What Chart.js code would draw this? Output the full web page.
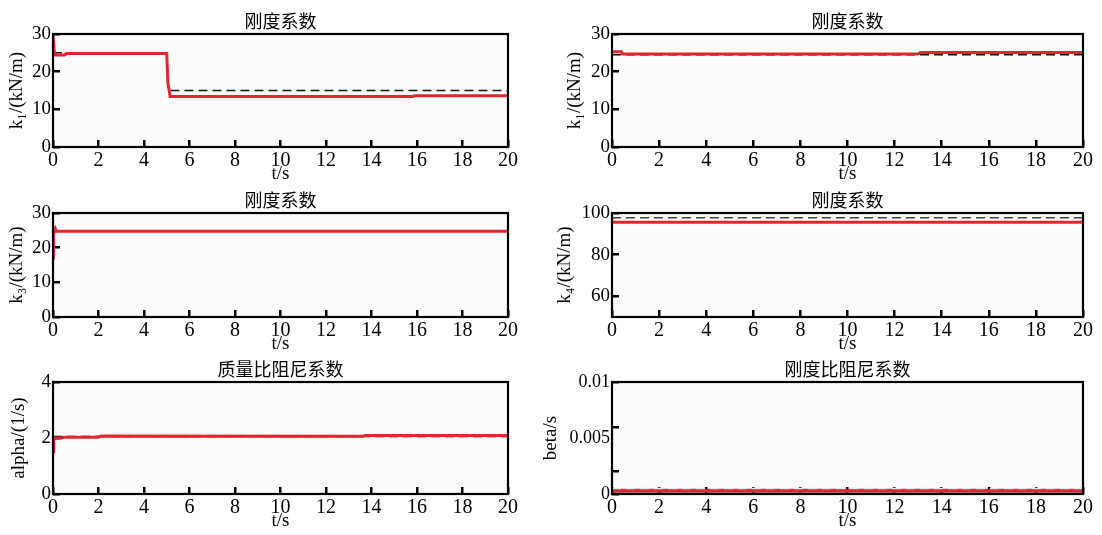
<!DOCTYPE html>
<html>
<head>
<meta charset="utf-8">
<script src="https://cdn.jsdelivr.net/npm/chart.js@4.4.0/dist/chart.umd.min.js"></script>
<style>
  body { margin: 0; background: #fff; }
  #wrap { position: relative; width: 1102px; height: 535px; overflow: hidden; }
  canvas { position: absolute; }
</style>
</head>
<body>
<div id="wrap">
  <canvas id="c1" width="530" height="175" style="left:0;top:10px"></canvas>
  <canvas id="c2" width="572" height="175" style="left:530px;top:10px"></canvas>
  <canvas id="c3" width="530" height="166" style="left:0;top:189px"></canvas>
  <canvas id="c4" width="572" height="166" style="left:530px;top:189px"></canvas>
  <canvas id="c5" width="530" height="174" style="left:0;top:358px"></canvas>
  <canvas id="c6" width="572" height="174" style="left:530px;top:358px"></canvas>
</div>
<script>
// x axis (time, s)
const xTicks = [0, 2, 4, 6, 8, 10, 12, 14, 16, 18, 20];

// panel 1: k1 (identified vs. true)
const t1Id = [0, 0.05, 0.1, 0.5, 0.6, 5.0, 5.05, 5.15, 15.8, 15.9, 20];
const k1Id = [30, 25.5, 24.4, 24.4, 24.8, 24.8, 17, 13.4, 13.4, 13.6, 13.6];
const t1True = [0, 5, 5.05, 20];
const k1True = [25, 25, 15, 15];
const yTicks1 = [0, 10, 20, 30];

// panel 2: k1 (second case)
const t2Id = [0, 0.4, 0.45, 13, 13.1, 20];
const k2Id = [25.3, 25.3, 24.7, 24.7, 25.1, 25.1];
const t2True = [0, 20];
const k2True = [24.5, 24.5];
const yTicks2 = [0, 10, 20, 30];

// panel 3: k3
const t3Id = [0, 0.02, 0.1, 0.15, 20];
const k3Id = [17, 24, 25.5, 24.7, 24.7];
const t3True = [0, 20];
const k3True = [24.7, 24.7];
const yTicks3 = [0, 10, 20, 30];

// panel 4: k4
const t4Id = [0, 20];
const k4Id = [95.5, 95.5];
const t4True = [0, 20];
const k4True = [97.7, 97.7];
const yTicks4 = [60, 80, 100];

// panel 5: alpha
const t5Id = [0, 0.03, 0.4, 0.45, 2.0, 2.1, 13.6, 13.7, 20];
const a5Id = [1.5, 2.0, 2.0, 2.03, 2.03, 2.07, 2.06, 2.09, 2.09];
const t5True = [0, 20];
const a5True = [2.05, 2.05];
const yTicks5 = [0, 2, 4];

// panel 6: beta
const t6Id = [0, 20];
const b6Id = [0.0003, 0.0003];
const t6True = [0, 20];
const b6True = [0.00048, 0.00048];
const yTicks6 = [0, 0.002, 0.005, 0.006, 0.01];
const yLabels6 = [0, 0.005, 0.01];

const serif = "Liberation Serif";
const red = "#e3262d";

const boxPlugin = {
  id: "box",
  beforeDraw(chart) {
    const { ctx, chartArea: a } = chart;
    ctx.save();
    ctx.fillStyle = "#fbfbfb";
    ctx.fillRect(a.left, a.top, a.width, a.height);
    ctx.restore();
  },
  afterDraw(chart) {
    const { ctx, chartArea: a } = chart;
    ctx.save();
    ctx.strokeStyle = "#000";
    ctx.lineWidth = 2.2;
    ctx.strokeRect(a.left, a.top, a.width, a.height);
    ctx.restore();
  },
};

function pts(xs, ys) {
  return xs.map((x, i) => ({ x: x, y: ys[i] }));
}

function makePanel(id, p) {
  new Chart(document.getElementById(id), {
    type: "line",
    data: { datasets: p.datasets },
    options: {
      responsive: false,
      animation: false,
      layout: { padding: { left: 0, right: p.rightPad, top: 0, bottom: 0 } },
      elements: { point: { radius: 0 }, line: { tension: 0 } },
      plugins: {
        legend: { display: false },
        tooltip: { enabled: false },
        title: {
          display: true,
          text: p.title,
          fullSize: false,
          color: "#000",
          font: { family: "Noto Sans CJK SC", size: 18, weight: "normal", lineHeight: "20px" },
          padding: { top: 1, bottom: 3 },
        },
      },
      scales: {
        x: {
          type: "linear",
          min: 0,
          max: 20,
          afterBuildTicks: (s) => { s.ticks = xTicks.map((v) => ({ value: v })); },
          afterFit: (s) => { s.height = 38; },
          grid: { drawOnChartArea: false, tickLength: -7, color: "#000", lineWidth: 2.5 },
          border: { display: false },
          ticks: { color: "#000", font: { family: serif, size: 20 }, padding: 9, maxRotation: 0 },
          title: {
            display: true,
            text: "t/s",
            color: "#000",
            font: { family: serif, size: 19 },
            padding: { top: 0, bottom: 0 },
          },
        },
        y: {
          min: p.yMin,
          max: p.yMax,
          afterBuildTicks: (s) => { s.ticks = p.yTicks.map((v) => ({ value: v })); },
          afterFit: (s) => { s.width = p.yWidth; },
          grid: {
            drawOnChartArea: false,
            tickLength: -7,
            color: "#000",
            lineWidth: 2.5,
            tickColor: (c) => (c.tick && p.noMark && p.noMark.includes(c.tick.value) ? "rgba(0,0,0,0)" : "#000"),
          },
          border: { display: false },
          ticks: {
            color: "#000",
            font: { family: serif, size: p.yFont || 19 },
            padding: 9,
            autoSkip: false,
            callback: (v) => (p.yLabels && !p.yLabels.includes(v) ? "" : String(v)),
          },
          title: {
            display: true,
            text: p.yTitle,
            color: "#000",
            font: { family: serif, size: 19 },
            padding: { top: p.yTitlePad, bottom: 0 },
          },
        },
      },
    },
    plugins: [boxPlugin],
  });
}

function idLine(xs, ys, color, width) {
  return { data: pts(xs, ys), borderColor: color || red, borderWidth: width || 3, fill: false };
}
function trueLine(xs, ys, color) {
  return { data: pts(xs, ys), borderColor: color || "#111", borderWidth: 1.5, borderDash: [9, 5], fill: false };
}

makePanel("c1", {
  title: "刚度系数", yTitle: "k₁/(kN/m)", yTitlePad: 6, yWidth: 53, rightPad: 22,
  yMin: 0, yMax: 30, yTicks: yTicks1,
  datasets: [idLine(t1Id, k1Id), trueLine(t1True, k1True)],
});
makePanel("c2", {
  title: "刚度系数", yTitle: "k₁/(kN/m)", yTitlePad: 34, yWidth: 82, rightPad: 10,
  yMin: 0, yMax: 30, yTicks: yTicks2,
  datasets: [idLine(t2Id, k2Id), trueLine(t2True, k2True)],
});
makePanel("c3", {
  title: "刚度系数", yTitle: "k₃/(kN/m)", yTitlePad: 6, yWidth: 53, rightPad: 22,
  yMin: 0, yMax: 30, yTicks: yTicks3,
  datasets: [idLine(t3Id, k3Id), trueLine(t3True, k3True)],
});
makePanel("c4", {
  title: "刚度系数", yTitle: "k₄/(kN/m)", yTitlePad: 24, yWidth: 82, rightPad: 10,
  yMin: 50, yMax: 100, yTicks: yTicks4,
  datasets: [idLine(t4Id, k4Id), trueLine(t4True, k4True, "#444")],
});
makePanel("c5", {
  title: "质量比阻尼系数", yTitle: "alpha/(1/s)", yTitlePad: 8, yWidth: 53, rightPad: 22,
  yMin: 0, yMax: 4, yTicks: yTicks5,
  datasets: [idLine(t5Id, a5Id), trueLine(t5True, a5True)],
});
makePanel("c6", {
  title: "刚度比阻尼系数", yTitle: "beta/s", yTitlePad: 10, yWidth: 82, rightPad: 10,
  yMin: 0, yMax: 0.01, yTicks: yTicks6, yLabels: yLabels6, noMark: [0.005], yFont: 18,
  datasets: [trueLine(t6True, b6True, "#e8e8e8"), idLine(t6Id, b6Id, "#c8303a", 4)],
});
</script>
</body>
</html>
